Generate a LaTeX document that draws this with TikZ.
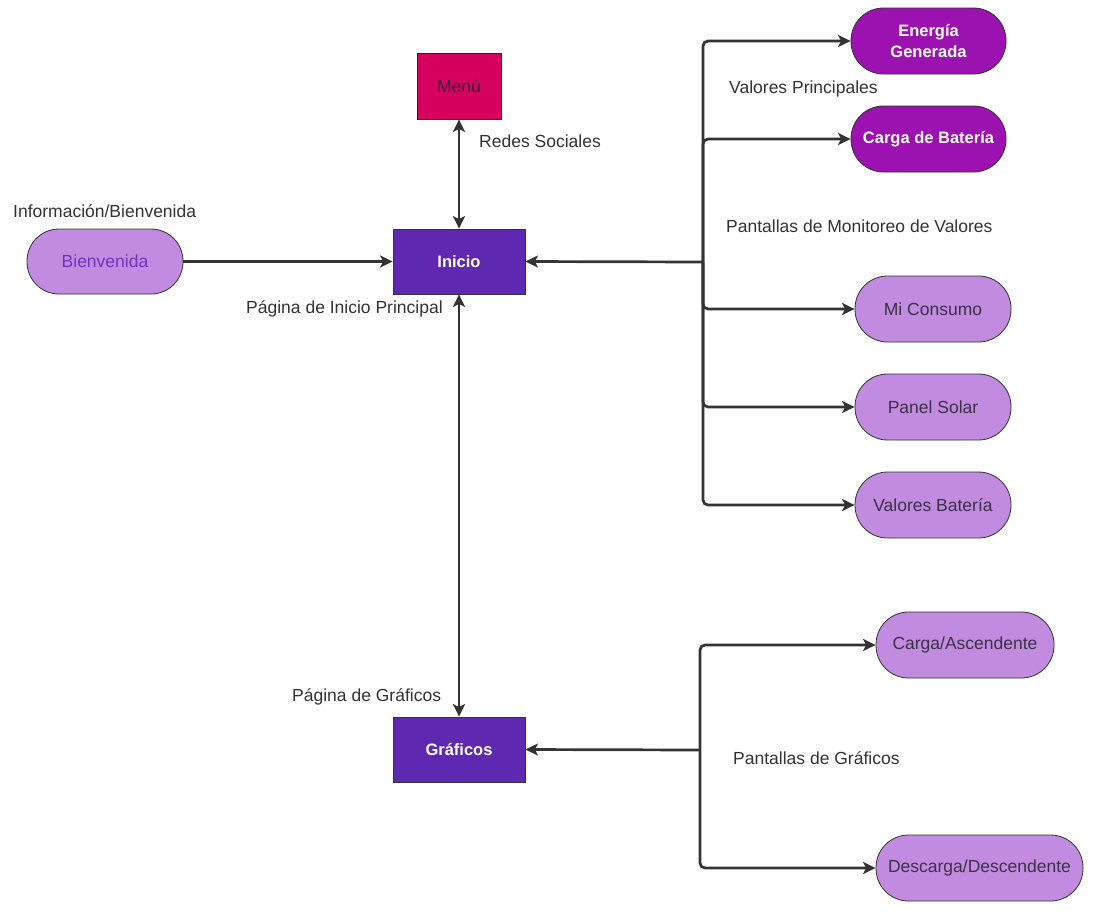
\documentclass[tikz,border=0pt]{standalone}
\usepackage{fontspec}
\setmainfont{Liberation Sans}
\usetikzlibrary{arrows.meta}
\definecolor{menuc}{HTML}{D6005F}
\definecolor{mainc}{HTML}{5F28B0}
\definecolor{strongc}{HTML}{9B12B1}
\definecolor{lightc}{HTML}{C18BE0}
\definecolor{linec}{HTML}{333333}
\definecolor{darktxt}{HTML}{3D3049}
\definecolor{purtxt}{HTML}{7033C0}
\begin{document}
\begin{tikzpicture}[x=1pt,y=-1pt,
  txt/.style={font=\fontsize{17.5}{21}\selectfont},
  boxnode/.style={draw=linec, line width=0.8pt, inner sep=0pt, align=center},
  mainbox/.style={boxnode, fill=mainc, text=white, font=\fontsize{16.5}{20}\selectfont\bfseries, minimum width=132pt, minimum height=65pt},
  pill/.style={boxnode, rounded corners=32.5pt, minimum height=66pt},
  strongpill/.style={pill, fill=strongc, text=white, font=\fontsize{16.5}{20.5}\selectfont\bfseries, minimum width=155pt},
  lightpill/.style={pill, fill=lightc, text=darktxt, txt, minimum width=156pt},
  lbl/.style={txt, text=linec, anchor=west, inner sep=0pt},
  tip/.tip={Stealth[length=12.5pt,width=12pt,inset=3pt]},
  conn/.style={draw=linec, line width=2.7pt, -tip},
  conn2/.style={draw=linec, line width=2.7pt, tip-tip},
  bus/.style={conn, rounded corners=5pt}
]
\useasboundingbox (0,0) rectangle (1097,911);
\fill[white] (0,0) rectangle (1097,911);

% nodes
\node[boxnode, fill=menuc, draw=menuc!50!black, text=darktxt!70!black, txt, minimum width=84pt, minimum height=66pt] (menu) at (459,86) {Menú};
\node[mainbox] (inicio) at (459,261.5) {Inicio};
\node[mainbox] (graf) at (459,749.5) {Gráficos};
\node[pill, fill=lightc, text=purtxt, txt, minimum width=156pt, minimum height=65pt, rounded corners=32pt] (bien) at (105,261.5) {Bienvenida};
\node[strongpill] (ener) at (928.5,41) {Energía\\Generada};
\node[strongpill] (carga) at (928.5,139) {Carga de Batería};
\node[lightpill] (consumo) at (933,309) {Mi Consumo};
\node[lightpill] (panel) at (933,407) {Panel Solar};
\node[lightpill] (valbat) at (933,505) {Valores Batería};
\node[lightpill, minimum width=178pt] (asc) at (965,645) {Carga/Ascendente};
\node[lightpill, minimum width=207pt] (desc) at (979.5,868) {Descarga/Descendente};

% labels
\node[lbl] (l1) at (479,141) {Redes Sociales};
\node[lbl] (l2) at (13,211) {Información/Bienvenida};
\node[lbl] (l3) at (246,309) {Página de Inicio Principal};
\node[lbl] (l4) at (729,89) {Valores Principales};
\node[lbl] (l5) at (726,226) {Pantallas de Monitoreo de Valores};
\node[lbl] (l6) at (292,697) {Página de Gráficos};
\node[lbl] (l7) at (733,758) {Pantallas de Gráficos};

% bus points
\coordinate (b1) at (703,262);
\coordinate (b2) at (700,750);

% connectors
\draw[conn2] (inicio.north) -- (menu.south);
\draw[conn2] (inicio.south) -- (graf.north);
\draw[conn] (bien.east) -- (inicio.west);
\draw[conn] (b1) -- (inicio.east);
\draw[bus] (b1) |- (ener.west);
\draw[bus] (b1) |- (carga.west);
\draw[bus] (b1) |- (consumo.west);
\draw[bus] (b1) |- (panel.west);
\draw[bus] (b1) |- (valbat.west);
\draw[conn] (b2) -- (graf.east);
\draw[bus] (b2) |- (asc.west);
\draw[bus] (b2) |- (desc.west);
\end{tikzpicture}
\end{document}
